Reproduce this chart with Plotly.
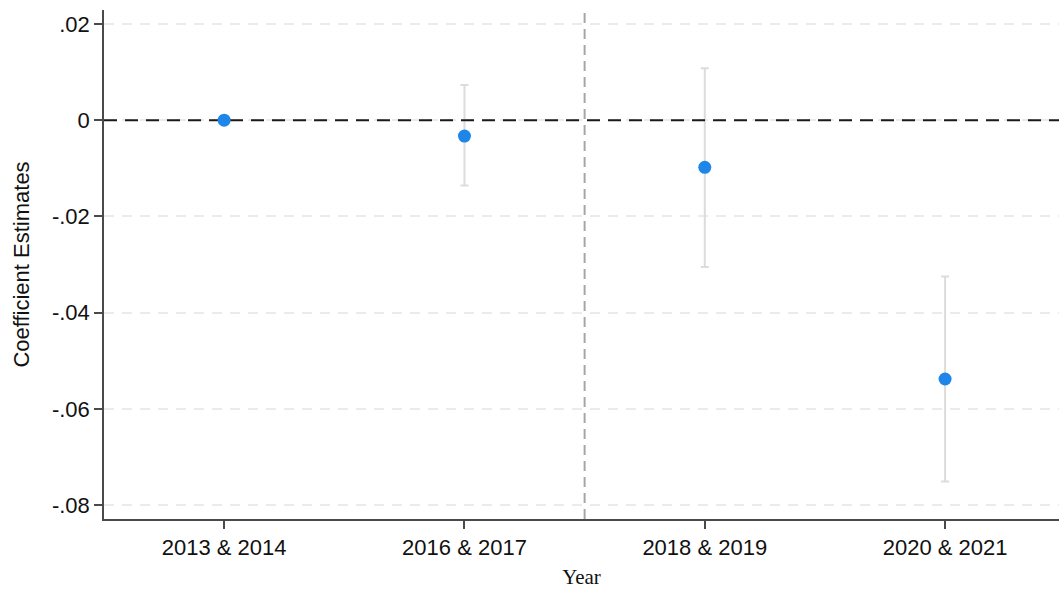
import plotly.graph_objects as go

# Event-study style coefficient plot
periods = ["2013 & 2014", "2016 & 2017", "2018 & 2019", "2020 & 2021"]
coef = [0.0, -0.0033, -0.0098, -0.0538]
ci_upper = [0.0, 0.0073, 0.0108, -0.0325]
ci_lower = [0.0, -0.0136, -0.0305, -0.0751]

y_tickvals = [0.02, 0.0, -0.02, -0.04, -0.06, -0.08]
y_ticktext = [".02", "0", "-.02", "-.04", "-.06", "-.08"]

x_pos = list(range(1, len(periods) + 1))
x_range = [0.5, 4.474]
y_range = [-0.0829, 0.0229]
policy_break = 2.5  # between 2016 & 2017 and 2018 & 2019

err_plus = [u - c for u, c in zip(ci_upper, coef)]
err_minus = [c - l for c, l in zip(coef, ci_lower)]

sans = "Liberation Sans, Arial, sans-serif"
serif = "Liberation Serif, Times New Roman, serif"

fig = go.Figure()

# confidence intervals (markers hidden; drawn again on top later)
fig.add_trace(go.Scatter(
    x=x_pos, y=coef, mode="markers",
    marker=dict(size=1, color="rgba(0,0,0,0)"),
    error_y=dict(type="data", symmetric=False, array=err_plus, arrayminus=err_minus,
                 color="#dcdcdc", thickness=2, width=4),
    hoverinfo="skip", showlegend=False,
))

# zero reference line
fig.add_trace(go.Scatter(
    x=x_range, y=[0, 0], mode="lines",
    line=dict(color="#1a1a1a", width=2, dash="13px,8px"),
    hoverinfo="skip", showlegend=False,
))

# point estimates
fig.add_trace(go.Scatter(
    x=x_pos, y=coef, mode="markers",
    marker=dict(size=13, color="#1f86e9"),
    showlegend=False,
))

# vertical dashed separator
fig.add_shape(type="line", xref="x", yref="paper", x0=policy_break, x1=policy_break,
              y0=0, y1=1, line=dict(color="#a6a6a6", width=2, dash="10px,6px"), layer="below")

fig.update_layout(
    width=1059, height=589,
    margin=dict(l=104, r=0, t=10, b=70),
    paper_bgcolor="white", plot_bgcolor="white",
    font=dict(family=sans, color="#111111"),
)

fig.update_xaxes(
    range=x_range, tickmode="array", tickvals=x_pos, ticktext=periods,
    showgrid=False, zeroline=False,
    showline=True, linecolor="#4a4a4a", linewidth=1.5,
    ticks="outside", ticklen=8, tickcolor="#4a4a4a", tickwidth=1.5,
    tickfont=dict(size=22, family=sans, color="#111111"),
    title=dict(text="Year", font=dict(size=21, family=serif, color="#111111"),
               standoff=11),
)

fig.update_yaxes(
    range=y_range, tickmode="array", tickvals=y_tickvals, ticktext=y_ticktext,
    showgrid=True, gridcolor="#ebebeb", gridwidth=1.5, griddash="10px,8px",
    zeroline=False,
    showline=True, linecolor="#4a4a4a", linewidth=1.5,
    ticks="outside", ticklen=8, tickcolor="#4a4a4a", tickwidth=1.5,
    tickfont=dict(size=22, family=sans, color="#111111"),
    title=dict(text="Coefficient Estimates", font=dict(size=22, family=sans, color="#111111"),
               standoff=16),
)

fig.write_html("out.html")
